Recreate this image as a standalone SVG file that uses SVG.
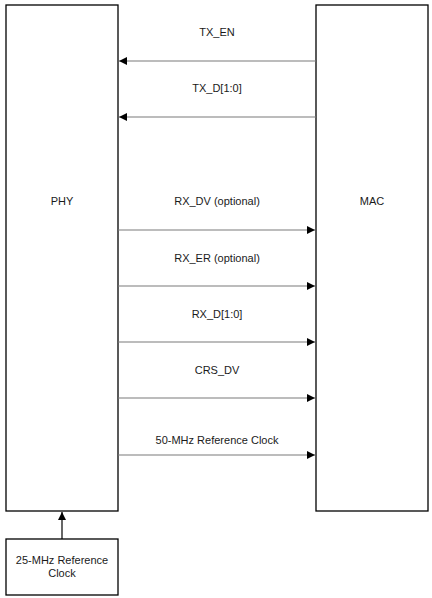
<svg xmlns="http://www.w3.org/2000/svg" width="432" height="598" viewBox="0 0 432 598">
<style>
.box{fill:#fff;stroke:#000;stroke-width:1.3}
.t{font-family:"Liberation Sans",Arial,sans-serif;font-size:11px;fill:#1a1a1a;text-anchor:middle}
.w{stroke:#7a7a7a;stroke-width:1.2;fill:none}
</style>
<defs>
<marker id="ah" viewBox="0 0 10 10" refX="10" refY="5" markerWidth="8" markerHeight="8" markerUnits="userSpaceOnUse" orient="auto">
<path d="M0,0 L10,5 L0,10 z" fill="#000"/>
</marker>
</defs>
<rect width="432" height="598" fill="#fff"/>
<g id="phy"><rect class="box" x="6" y="5" width="112" height="506"/><text class="t" x="62" y="205">PHY</text></g>
<g id="mac"><rect class="box" x="316" y="5" width="112" height="506"/><text class="t" x="372" y="205">MAC</text></g>
<g id="clk"><rect class="box" x="6" y="539" width="112" height="56"/><text class="t" x="62" y="564">25-MHz Reference</text><text class="t" x="62" y="577">Clock</text></g>
<g id="connectors">
<line class="w" x1="316" y1="61" x2="119" y2="61" marker-end="url(#ah)"/>
<line class="w" x1="316" y1="117" x2="119" y2="117" marker-end="url(#ah)"/>
<line class="w" x1="118" y1="230" x2="315" y2="230" marker-end="url(#ah)"/>
<line class="w" x1="118" y1="286" x2="315" y2="286" marker-end="url(#ah)"/>
<line class="w" x1="118" y1="342" x2="315" y2="342" marker-end="url(#ah)"/>
<line class="w" x1="118" y1="398" x2="315" y2="398" marker-end="url(#ah)"/>
<line class="w" x1="118" y1="455" x2="315" y2="455" marker-end="url(#ah)"/>
<line x1="62" y1="539" x2="62" y2="512" stroke="#000" stroke-width="1.2" marker-end="url(#ah)"/>
</g>
<g id="labels">
<text class="t" x="217" y="36">TX_EN</text>
<text class="t" x="217" y="92">TX_D[1:0]</text>
<text class="t" x="217" y="205">RX_DV (optional)</text>
<text class="t" x="217" y="262">RX_ER (optional)</text>
<text class="t" x="217" y="318">RX_D[1:0]</text>
<text class="t" x="217" y="374">CRS_DV</text>
<text class="t" x="217" y="444">50-MHz Reference Clock</text>
</g>
</svg>
